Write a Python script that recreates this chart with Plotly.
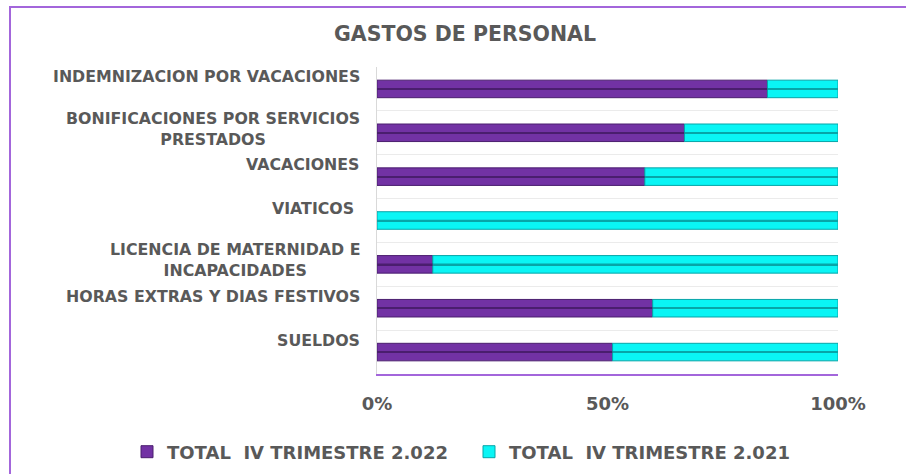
import plotly.graph_objects as go

categories = [
    "SUELDOS",
    "HORAS EXTRAS Y DIAS FESTIVOS",
    "LICENCIA DE MATERNIDAD E<br>INCAPACIDADES",
    "VIATICOS ",
    "VACACIONES",
    "BONIFICACIONES POR SERVICIOS<br>PRESTADOS",
    "INDEMNIZACION POR VACACIONES",
]
pct_2022 = [51.1, 59.8, 12.1, 0.0, 58.1, 66.7, 84.7]
pct_2021 = [48.9, 40.2, 87.9, 100.0, 41.9, 33.3, 15.3]
series_names = ["TOTAL  IV TRIMESTRE 2.022", "TOTAL  IV TRIMESTRE 2.021"]
tick_vals = [0, 50, 100]
tick_text = ["0%", "50%", "100%"]

W, H = 906, 474
ML, MR, MT, MB = 377, 68, 67, 100
PW = W - ML - MR
PH = H - MT - MB

PURPLE = "#7232A4"
PURPLE_DARK = "#4A1E6E"
CYAN = "#0AF5F5"
CYAN_DARK = "#07A5A8"
GRAY = "#595959"
FONT = "DejaVu Sans"
FRAME = "#A366DB"

base_2021 = pct_2022

fig = go.Figure()
fig.add_trace(go.Bar(
    y=categories, x=pct_2022, base=[0] * len(pct_2022), orientation="h",
    name=series_names[0],
    marker=dict(color=PURPLE, line=dict(color=PURPLE_DARK, width=1)),
    width=0.4,
))
fig.add_trace(go.Bar(
    y=categories, x=pct_2021, base=base_2021, orientation="h",
    name=series_names[1],
    marker=dict(color=CYAN, line=dict(color=CYAN_DARK, width=1)),
    width=0.4,
))

# inner bevel lines (derived from the same data)
fig.add_trace(go.Bar(
    y=categories, x=pct_2022, base=[0] * len(pct_2022), orientation="h",
    showlegend=False,
    marker=dict(color=PURPLE_DARK, line=dict(width=0)),
    width=0.035, hoverinfo="skip",
))
fig.add_trace(go.Bar(
    y=categories, x=pct_2021, base=base_2021, orientation="h",
    showlegend=False,
    marker=dict(color=CYAN_DARK, line=dict(width=0)),
    width=0.035, hoverinfo="skip",
))

for cat in categories:
    two = "<br>" in cat
    fig.add_annotation(
        x=0, xref="paper", y=cat, yref="y",
        xanchor="right", yanchor="middle", xshift=-15,
        yshift=4 if two else 12,
        text=cat, showarrow=False, align="center",
        font=dict(family=FONT, size=15.8, color=GRAY, weight="bold"),
    )

fig.add_shape(
    type="rect", xref="paper", yref="paper",
    x0=(10 - ML) / PW, x1=(W + 20 - ML) / PW,
    y0=-(H + 20 - MT - PH) / PH, y1=(H - 7 - MB) / PH,
    line=dict(color=FRAME, width=2), fillcolor="rgba(0,0,0,0)",
    layer="below",
)

fig.update_layout(
    width=W, height=H,
    margin=dict(l=ML, r=MR, t=MT, b=MB, autoexpand=False),
    barmode="overlay",
    paper_bgcolor="white", plot_bgcolor="white",
    title=dict(text="GASTOS DE PERSONAL", x=465 / W, xanchor="center",
               y=1 - 34 / H, yanchor="middle",
               font=dict(family=FONT, size=20.5, color=GRAY, weight="bold")),
    showlegend=True,
    legend=dict(orientation="h",
                x=(127 - ML) / PW, xanchor="left",
                y=-(452 - MT - PH) / PH, yanchor="middle",
                font=dict(family=FONT, size=18, color=GRAY, weight="bold"),
                itemwidth=30, traceorder="normal",
                entrywidth=297, entrywidthmode="pixels"),
    xaxis=dict(range=[0, 100], tickvals=tick_vals, ticktext=tick_text,
               showgrid=False, zeroline=False,
               showline=True, linecolor=FRAME, linewidth=2,
               ticks="", ticklabelstandoff=12,
               tickfont=dict(family=FONT, size=18, color=GRAY, weight="bold")),
    yaxis=dict(showticklabels=False, tickson="boundaries", showgrid=True,
               gridcolor="#EBEBEB", gridwidth=1, zeroline=False,
               showline=True, linecolor="#D9D9D9", linewidth=1, ticks="",
               range=[-0.5, 6.5]),
)

fig.write_html("out.html", config={"displayModeBar": False},
               post_script="document.body.style.margin='0';")
